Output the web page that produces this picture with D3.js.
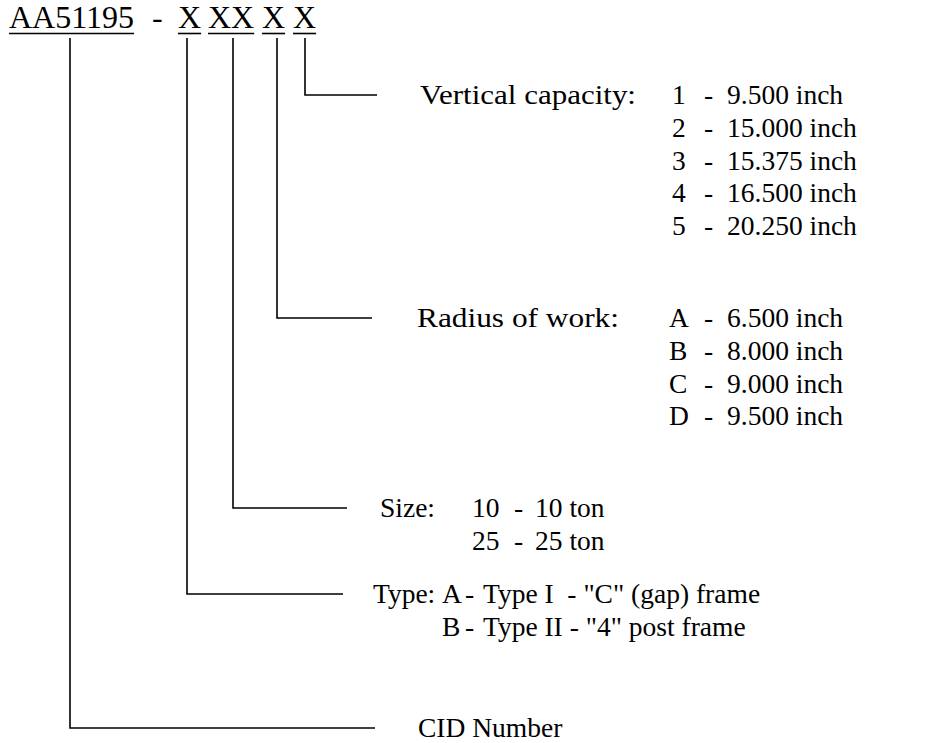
<!DOCTYPE html>
<html>
<head>
<meta charset="utf-8">
<script src="https://cdn.jsdelivr.net/npm/d3@7"></script>
<style>
  body { margin: 0; background: #fff; }
  text { white-space: pre; }
</style>
</head>
<body>
<svg id="diagram"></svg>
<script>
// part number breakdown for AA51195

// part number pieces, left to right
const partPieces = ["AA51195", "X", "XX", "X", "X"];

// field names, one per branch (bottom branch = CID)
const fieldNames = ["Vertical capacity:", "Radius of work:", "Size:", "Type:", "CID Number"];

const capacityCodes = ["1", "2", "3", "4", "5"];
const capacityValues = ["9.500 inch", "15.000 inch", "15.375 inch", "16.500 inch", "20.250 inch"];

const radiusCodes = ["A", "B", "C", "D"];
const radiusValues = ["6.500 inch", "8.000 inch", "9.000 inch", "9.500 inch"];

const sizeCodes = ["10", "25"];
const sizeValues = ["10 ton", "25 ton"];

const typeCodes = ["A", "B"];
const typeValues = ["Type I  - \"C\" (gap) frame", "Type II - \"4\" post frame"];

// window
let win = {w: 926, h: 743};
const svg = d3.select("#diagram")
  .attr("width", win.w)
  .attr("height", win.h);

const g = svg.append("g")
  .attr("font-family", "'Liberation Serif', 'Times New Roman', Tinos, 'DejaVu Serif', serif")
  .attr("fill", "#000");

let headSize = 32;
let fontSize = 27.5;
let rowStep = 32.8;   // line spacing of the option lists
let capHalf = 9;      // baseline offset so text centers on the leader line

// row scale for the option lists
let rowY = d3.scaleLinear().domain([0, 1]).range([0, rowStep]);

// HEADER
let pieceX = [9, 178, 208, 262, 293];
let headerBase = 28;
let underlineY = 33.5;

partPieces.forEach(function(p, i) {
  let t = g.append("text")
    .attr("x", pieceX[i])
    .attr("y", headerBase)
    .attr("font-size", headSize)
    .text(p);
  let w = t.node().getComputedTextLength();
  g.append("line")
    .attr("x1", pieceX[i]).attr("x2", pieceX[i] + w)
    .attr("y1", underlineY).attr("y2", underlineY)
    .attr("stroke", "#000").attr("stroke-width", 1.6);
});

g.append("text")
  .attr("x", 152)
  .attr("y", headerBase)
  .attr("font-size", headSize)
  .text("-");

// LEADERS (vertical from piece down, then right)
// order: last X .. first piece, matches fieldNames
let leaderX = [305, 277, 233, 187, 70];
let leaderY = [95, 318, 508, 594, 728];
let leaderEnd = [377, 372, 347, 343, 375];
let labelX = [420, 417, 380, 373, 418];
let labelW = [216, 202, null, null, null];   // the two long labels sit a bit wider in the source

leaderX.forEach(function(x, i) {
  g.append("path")
    .attr("d", d3.line()([[x, 38], [x, leaderY[i]], [leaderEnd[i], leaderY[i]]]))
    .attr("fill", "none")
    .attr("stroke", "#000")
    .attr("stroke-width", 1.6);

  let t = g.append("text")
    .attr("x", labelX[i])
    .attr("y", leaderY[i] + capHalf)
    .attr("font-size", fontSize)
    .text(fieldNames[i]);
  if (labelW[i]) t.attr("textLength", labelW[i]).attr("lengthAdjust", "spacingAndGlyphs");
});

// option lists
function optionList(codes, vals, top, codeX, dashX, valX) {
  codes.forEach(function(c, j) {
    let y = leaderY[top] + rowY(j) + capHalf;
    g.append("text").attr("x", codeX).attr("y", y).attr("font-size", fontSize).text(c);
    g.append("text").attr("x", dashX).attr("y", y).attr("font-size", fontSize).text("-");
    g.append("text").attr("x", valX).attr("y", y).attr("font-size", fontSize).text(vals[j]);
  });
}

optionList(capacityCodes, capacityValues, 0, 672, 704, 727);
optionList(radiusCodes, radiusValues, 1, 669, 704, 727);
optionList(sizeCodes, sizeValues, 2, 472, 514, 535);
optionList(typeCodes, typeValues, 3, 442, 465, 483);
</script>
</body>
</html>
